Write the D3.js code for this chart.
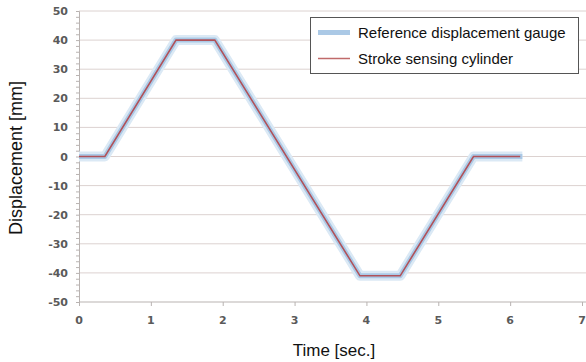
<!DOCTYPE html>
<html>
<head>
<meta charset="utf-8">
<script src="https://cdn.jsdelivr.net/npm/d3@7"></script>
<style>
  body { margin: 0; background: #fff; }
  svg { display: block; }
</style>
</head>
<body>
<svg id="chart" width="586" height="362"></svg>
<script>
// time (sec.) and displacement (mm)
const gaugeTime = [0, 0.36, 1.35, 1.89, 3.91, 4.47, 5.49, 6.17];
const gaugeDisp = [0, 0, 40, 40, -41, -41, 0, 0];
const cylinderTime = [0, 0.36, 1.35, 1.89, 3.91, 4.47, 5.49, 6.14];
const cylinderDisp = [0, 0, 40, 40, -41, -41, 0, 0];
const yTicks = [50, 40, 30, 20, 10, 0, -10, -20, -30, -40, -50];
const xTicks = [0, 1, 2, 3, 4, 5, 6, 7];
const seriesNames = ["Reference displacement gauge", "Stroke sensing cylinder"];

const svg = d3.select("#chart");

const x = d3.scaleLinear().domain([0, 7]).range([79, 582]);
const y = d3.scaleLinear().domain([-50, 50]).range([302, 11]);

const grid = svg.append("g");
grid.selectAll("line")
    .data(yTicks.filter(d => d !== -50))
    .enter()
    .append("line")
    .attr("x1", x(0))
    .attr("x2", 586)
    .attr("y1", d => y(d))
    .attr("y2", d => y(d))
    .style("stroke", "#dcd2d0")
    .style("stroke-width", "1px");

// y axis with minor ticks
const yAxis = svg.append("g").attr("transform", "translate(" + x(0) + ",0)");
yAxis.call(d3.axisLeft(y).tickValues(d3.range(-50, 51, 2)).tickSize(3).tickFormat(""));
yAxis.select(".domain").style("stroke", "#b9b3b1");
yAxis.selectAll(".tick line").style("stroke", "#b9b3b1");

svg.append("g").selectAll("text")
    .data(yTicks)
    .enter()
    .append("text")
    .attr("x", 68)
    .attr("y", d => y(d) + 4)
    .attr("text-anchor", "end")
    .style("font-family", "'DejaVu Sans', sans-serif")
    .style("font-size", "11px")
    .style("font-weight", "bold")
    .style("fill", "#5a5a5a")
    .text(d => d);

// x axis
const xAxis = svg.append("g").attr("transform", "translate(0," + y(-50) + ")");
xAxis.call(d3.axisBottom(x).tickValues(xTicks).tickSize(4).tickFormat(""));
xAxis.select(".domain").attr("d", "M" + x(0) + ",0H586").style("stroke", "#b9b3b1");
xAxis.selectAll(".tick line").style("stroke", "#b9b3b1");

svg.append("g").selectAll("text")
    .data(xTicks)
    .enter()
    .append("text")
    .attr("x", d => x(d))
    .attr("y", 324)
    .attr("text-anchor", "middle")
    .style("font-family", "'DejaVu Sans', sans-serif")
    .style("font-size", "11px")
    .style("font-weight", "bold")
    .style("fill", "#5a5a5a")
    .text(d => d);

const line = d3.line()
    .x(d => x(d[0]))
    .y(d => y(d[1]));

const gauge = gaugeTime.map((t, i) => [t, gaugeDisp[i]]);
const cylinder = cylinderTime.map((t, i) => [t, cylinderDisp[i]]);

svg.append("path")
    .datum(gauge)
    .attr("d", line)
    .style("fill", "none")
    .style("stroke", "#dbe9f5")
    .style("stroke-width", "10px")
    .style("stroke-linejoin", "round");
svg.append("path")
    .datum(gauge)
    .attr("d", line)
    .style("fill", "none")
    .style("stroke", "#abc9e6")
    .style("stroke-width", "5px")
    .style("stroke-linejoin", "round");
svg.append("path")
    .datum(cylinder)
    .attr("d", line)
    .style("fill", "none")
    .style("stroke", "#b0525a")
    .style("stroke-width", "1.6px");

// legend
const legend = svg.append("g");
legend.append("rect")
    .attr("x", 310.5)
    .attr("y", 17.5)
    .attr("width", 268)
    .attr("height", 56)
    .style("fill", "#fff")
    .style("stroke", "#555")
    .style("stroke-width", "1px");

const swatch = [
    { color: "#abc9e6", width: 5 },
    { color: "#c06a6a", width: 1.5 }
];
seriesNames.forEach((name, i) => {
    const cy = 32.5 + i * 26;
    legend.append("line")
        .attr("x1", 318)
        .attr("x2", 350)
        .attr("y1", cy)
        .attr("y2", cy)
        .style("stroke", swatch[i].color)
        .style("stroke-width", swatch[i].width + "px");
    legend.append("text")
        .attr("x", 358)
        .attr("y", cy + 5)
        .style("font-family", "'Liberation Sans', Arial, sans-serif")
        .style("font-size", "15px")
        .style("fill", "#111")
        .text(name);
});

svg.append("text")
    .attr("transform", "translate(22,158) rotate(-90)")
    .attr("text-anchor", "middle")
    .style("font-family", "'Liberation Sans', Arial, sans-serif")
    .style("font-size", "18px")
    .style("fill", "#111")
    .text("Displacement [mm]");

svg.append("text")
    .attr("x", 334)
    .attr("y", 356)
    .attr("text-anchor", "middle")
    .style("font-family", "'Liberation Sans', Arial, sans-serif")
    .style("font-size", "17px")
    .style("fill", "#111")
    .text("Time [sec.]");
</script>
</body>
</html>
